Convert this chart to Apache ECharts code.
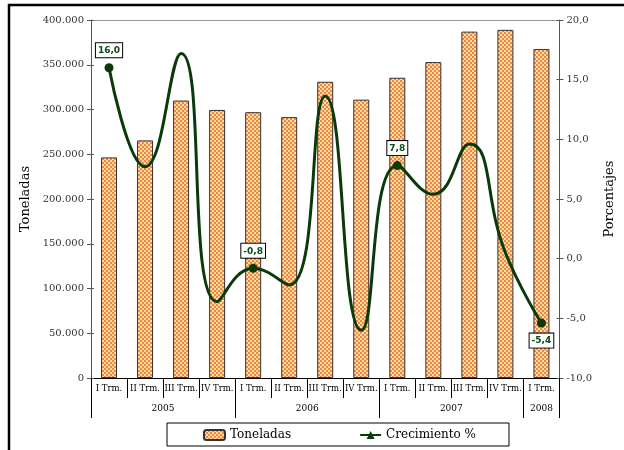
<!DOCTYPE html>
<html>
<head>
<meta charset="utf-8">
<script src="https://cdn.jsdelivr.net/npm/echarts@6/dist/echarts.min.js"></script>
<style>html,body{margin:0;padding:0;background:#fff}#c{width:624px;height:450px}</style>
</head>
<body>
<div id="c"></div>
<script>
const quarters = ['I Trm.','II Trm.','III Trm.','IV Trm.','I Trm.','II Trm.','III Trm.','IV Trm.','I Trm.','II Trm.','III Trm.','IV Trm.','I Trm.'];
const years = ['2005','2006','2007','2008'];
const yearQuarterCounts = [4,4,4,1];
const toneladas = [246500, 265500, 310000, 299500, 297000, 291500, 331000, 311000, 335500, 353000, 387000, 389000, 367500];
const crecimiento = [16.0, 7.7, 17.2, -3.6, -0.8, -2.2, 13.6, -6.0, 7.8, 5.4, 9.6, 0.5, -5.4];
const labeledPoints = [0, 4, 8, 12];
const labelBelow = [12];

const FONT = 'DejaVu Serif';

// bar pattern
const pc = document.createElement('canvas');
pc.width = 4; pc.height = 4;
const px = pc.getContext('2d');
px.fillStyle = '#FFE66E'; px.fillRect(0,0,4,4);
px.fillStyle = '#F27C74'; px.fillRect(0,0,2,2); px.fillRect(2,2,2,2);
const pattern = {image: pc, repeat: 'repeat'};

// year boundaries & centers
const yearBounds = [0];
yearQuarterCounts.forEach(n => yearBounds.push(yearBounds[yearBounds.length-1] + n));
const yearCenters = yearQuarterCounts.map((n, i) => yearBounds[i] + n / 2);

const fmtThousands = v => String(Math.round(v)).replace(/\B(?=(\d{3})+(?!\d))/g, '.');
const fmtPct = v => v.toFixed(1).replace('.', ',');

const lineData = crecimiento.map((v, i) => {
  if (labeledPoints.indexOf(i) >= 0) {
    return {value: v, symbol: 'circle', symbolSize: 9,
      label: {show: true, position: labelBelow.indexOf(i) >= 0 ? 'bottom' : 'top', distance: 6}};
  }
  return {value: v, symbolSize: 0};
});

function innerTickAxis(min, max, interval, position) {
  return {
    type: 'value', min: min, max: max, interval: interval, position: position,
    axisLine: {show: false, onZero: false},
    axisTick: {show: true, inside: true, length: 3, lineStyle: {color: '#555'}},
    axisLabel: {show: false}, splitLine: {show: false}
  };
}

const chart = echarts.init(document.getElementById('c'), null, {renderer: 'canvas'});
chart.setOption({
  animation: false,
  textStyle: {fontFamily: FONT},
  grid: {left: 91, right: 43, top: 20, bottom: 72},
  graphic: [{
    type: 'rect', shape: {x: 9, y: 5, width: 700, height: 500},
    style: {fill: 'none', stroke: '#000', lineWidth: 2.5}, silent: true
  }],
  legend: {
    left: 167, top: 423,
    padding: [6, 33, 5, 36],
    itemGap: 68, itemWidth: 21, itemHeight: 10,
    borderColor: '#000', borderWidth: 1,
    textStyle: {fontFamily: FONT, fontSize: 12, color: '#000'},
    data: [{name: 'Toneladas'}, {name: 'Crecimiento %'}]
  },
  xAxis: [{
    type: 'category', data: quarters, position: 'bottom',
    axisLine: {onZero: false, lineStyle: {color: '#000', width: 1}},
    axisTick: {show: true, interval: 0, length: 20, lineStyle: {color: '#000'}},
    axisLabel: {interval: 0, fontSize: 8.5, color: '#000', margin: 6, fontFamily: FONT}
  }, {
    type: 'value', min: 0, max: quarters.length, position: 'bottom',
    axisLine: {show: false, onZero: false}, splitLine: {show: false},
    axisTick: {show: true, customValues: yearBounds, length: 40, lineStyle: {color: '#000'}},
    axisLabel: {customValues: yearCenters, fontSize: 9, color: '#000', margin: 26, fontFamily: FONT,
      formatter: v => { const i = yearCenters.indexOf(v); return i >= 0 ? years[i] : ''; }}
  }, {
    type: 'category', data: quarters, position: 'top',
    axisLine: {show: true, onZero: false, lineStyle: {color: '#999'}},
    axisTick: {show: false}, axisLabel: {show: false}
  }],
  yAxis: [{
    type: 'value', min: 0, max: 400000, interval: 50000, position: 'left',
    name: 'Toneladas', nameLocation: 'middle', nameRotate: 90, nameGap: 50,
    nameTextStyle: {fontFamily: FONT, fontSize: 13, color: '#000'},
    axisLine: {show: true, onZero: false, lineStyle: {color: '#555'}},
    axisTick: {show: true, length: 4, lineStyle: {color: '#555'}},
    splitLine: {show: false},
    axisLabel: {formatter: fmtThousands, fontSize: 10, color: '#333', margin: 7, fontFamily: FONT}
  }, {
    type: 'value', min: -10, max: 20, interval: 5, position: 'right',
    name: 'Porcentajes', nameLocation: 'middle', nameRotate: 90, nameGap: 18,
    nameTextStyle: {fontFamily: FONT, fontSize: 13, color: '#000'},
    axisLine: {show: true, onZero: false, lineStyle: {color: '#555'}},
    axisTick: {show: true, length: 4, lineStyle: {color: '#555'}},
    splitLine: {show: false},
    axisLabel: {formatter: fmtPct, fontSize: 10, color: '#333', margin: 7, fontFamily: FONT}
  },
  innerTickAxis(0, 400000, 50000, 'left'),
  innerTickAxis(-10, 20, 5, 'right')],
  series: [{
    name: 'Toneladas', type: 'bar', xAxisIndex: 0, yAxisIndex: 0,
    data: toneladas, barWidth: 16,
    itemStyle: {color: pattern, borderColor: '#333', borderWidth: 1},
    emphasis: {disabled: true}
  }, {
    name: 'Crecimiento %', type: 'line', xAxisIndex: 0, yAxisIndex: 1,
    data: lineData, smooth: 0.5, symbol: 'triangle', symbolSize: 0,
    lineStyle: {color: '#0A3A0A', width: 3},
    itemStyle: {color: '#0A3A0A'},
    label: {show: false, formatter: p => fmtPct(p.value),
      backgroundColor: '#fff', borderColor: '#000', borderWidth: 1, padding: [3, 2, 2, 2],
      fontFamily: 'DejaVu Sans', fontWeight: 'bold', fontSize: 9, color: '#0A4A14'},
    emphasis: {disabled: true}, z: 3
  }]
});
</script>
</body>
</html>
